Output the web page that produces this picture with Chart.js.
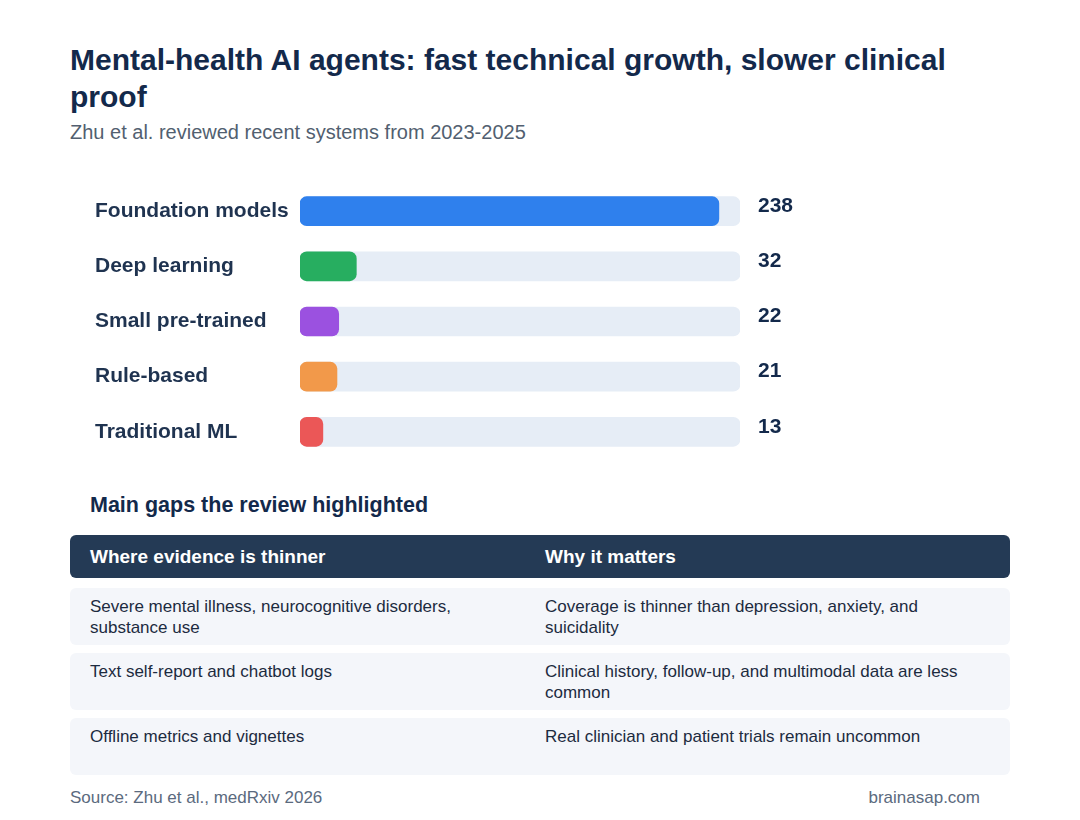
<!DOCTYPE html>
<html>
<head>
<meta charset="utf-8">
<script src="https://cdn.jsdelivr.net/npm/chart.js"></script>
<style>
    body { margin: 0; background: #fff; font-family: "Liberation Sans", Arial, sans-serif; }
    #page { position: relative; width: 1080px; height: 820px; overflow: hidden; }
    h1 { position: absolute; left: 70px; top: 41px; width: 900px; margin: 0; font-size: 30px; line-height: 37px; font-weight: bold; color: #13294b; }
    .subtitle { position: absolute; left: 70px; top: 121px; margin: 0; font-size: 20px; color: #525f70; }
    #chartBox { position: absolute; left: 95px; top: 171px; }
    h2 { position: absolute; left: 90px; top: 493px; margin: 0; font-size: 21.5px; font-weight: bold; color: #13294b; }
    #gaps { position: absolute; left: 70px; top: 535px; width: 940px; }
    .row { position: relative; height: 57px; border-radius: 6px; background: #f4f6fa; margin-bottom: 8px; color: #1c2b3f; font-size: 17px; line-height: 21px; }
    .row.head { height: 43px; margin-bottom: 10px; background: #243a55; color: #fff; font-weight: bold; font-size: 19px; line-height: 43px; }
    .c1 { position: absolute; left: 20px; top: 8px; width: 420px; }
    .c2 { position: absolute; left: 475px; top: 8px; width: 420px; }
    .head .c1, .head .c2 { top: 0; }
    .foot { position: absolute; top: 788px; font-size: 17px; color: #5b6a7e; }
</style>
</head>
<body>
<div id="page">
    <h1 id="title"></h1>
    <p class="subtitle" id="subtitle"></p>
    <div id="chartBox"><canvas id="barChart" width="725" height="301"></canvas></div>
    <h2>Main gaps the review highlighted</h2>
    <div id="gaps"></div>
    <div class="foot" style="left:70px">Source: Zhu et al., medRxiv 2026</div>
    <div class="foot" style="right:100px">brainasap.com</div>
</div>
<script>
const titleText = "Mental-health AI agents: fast technical growth, slower clinical proof";
const subtitleText = "Zhu et al. reviewed recent systems from 2023-2025";

const categories = ["Foundation models", "Deep learning", "Small pre-trained", "Rule-based", "Traditional ML"];
const systemCounts = [238, 32, 22, 21, 13];
const barColors = ["#2f80ed", "#27ae60", "#9b51e0", "#f2994a", "#eb5757"];
const axisMax = 250;

const gapHeaders = ["Where evidence is thinner", "Why it matters"];
const gapAreas = [
    "Severe mental illness, neurocognitive disorders, substance use",
    "Text self-report and chatbot logs",
    "Offline metrics and vignettes"
];
const gapReasons = [
    "Coverage is thinner than depression, anxiety, and suicidality",
    "Clinical history, follow-up, and multimodal data are less common",
    "Real clinician and patient trials remain uncommon"
];

document.getElementById("title").textContent = titleText;
document.getElementById("subtitle").textContent = subtitleText;

function renderTable() {
    const gaps = document.getElementById("gaps");
    let html = `<div class="row head"><div class="c1">${gapHeaders[0]}</div><div class="c2">${gapHeaders[1]}</div></div>`;
    gapAreas.forEach((area, i) => {
        html += `<div class="row"><div class="c1">${area}</div><div class="c2">${gapReasons[i]}</div></div>`;
    });
    gaps.innerHTML = html;
}

// value labels to the right of the track
const valueLabels = {
    id: "valueLabels",
    afterDatasetsDraw(chart) {
        const ctx = chart.ctx;
        const meta = chart.getDatasetMeta(1);
        ctx.save();
        ctx.font = "bold 21px 'Liberation Sans', Arial, sans-serif";
        ctx.fillStyle = "#13294b";
        ctx.textBaseline = "middle";
        ctx.textAlign = "left";
        meta.data.forEach((bar, i) => {
            ctx.fillText(String(systemCounts[i]), chart.chartArea.right + 18, bar.y - 5);
        });
        ctx.restore();
    }
};

function renderChart() {
    const ctx = document.getElementById("barChart").getContext("2d");
    new Chart(ctx, {
        type: "bar",
        data: {
            labels: categories,
            datasets: [{
                label: "track",
                data: categories.map(() => axisMax),
                backgroundColor: "#e6edf6",
                borderRadius: 7,
                borderSkipped: false,
                barThickness: 29,
                grouped: false,
                order: 2
            }, {
                label: "Systems",
                data: systemCounts,
                backgroundColor: barColors,
                borderRadius: 7,
                borderSkipped: false,
                barThickness: 29,
                grouped: false,
                order: 1
            }]
        },
        options: {
            indexAxis: "y",
            responsive: false,
            animation: false,
            layout: { padding: { left: 0, right: 80, top: 0, bottom: 0 } },
            plugins: {
                legend: { display: false },
                tooltip: { enabled: false }
            },
            scales: {
                x: { display: false, min: 0, max: axisMax },
                y: {
                    grid: { display: false },
                    border: { display: false },
                    afterFit: scale => { scale.width = 205; },
                    ticks: {
                        crossAlign: "far",
                        padding: 0,
                        color: "#1f3350",
                        font: { family: "'Liberation Sans', Arial, sans-serif", size: 21, weight: "bold" }
                    }
                }
            }
        },
        plugins: [valueLabels]
    });
}

window.onload = () => {
    renderTable();
    renderChart();
};
</script>
</body>
</html>
